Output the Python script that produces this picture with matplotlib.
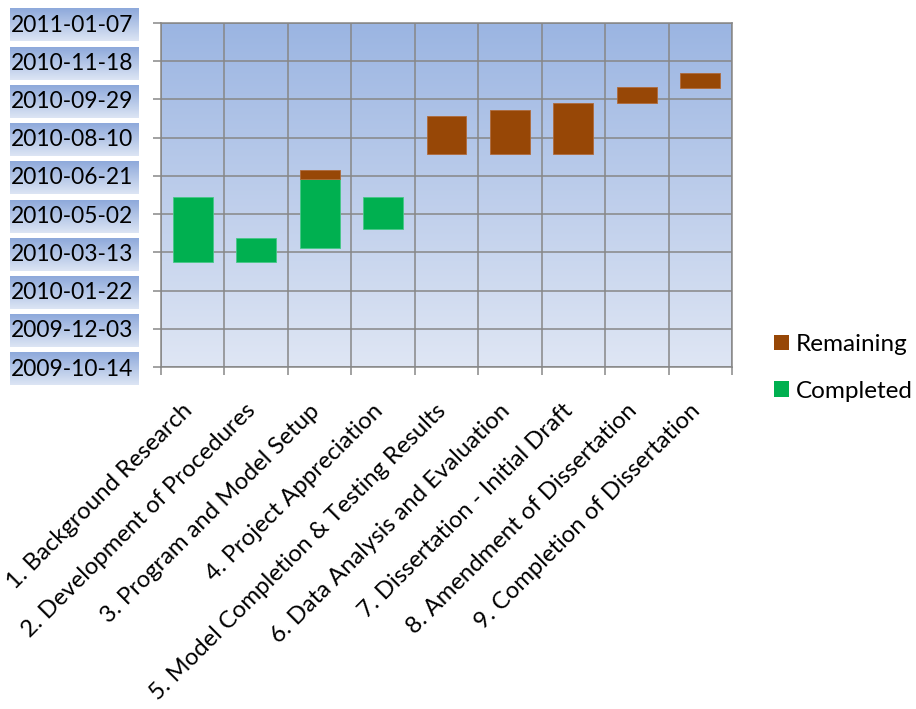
import numpy as np
import matplotlib
matplotlib.use("Agg")
import matplotlib.pyplot as plt
import matplotlib.dates as mdates
from matplotlib.patches import Patch
from matplotlib.colors import LinearSegmentedColormap
from matplotlib.transforms import ScaledTranslation

plt.rcParams['font.family'] = ['Lato', 'DejaVu Sans']

# Project schedule
tasks = [
    "1. Background Research",
    "2. Development of Procedures",
    "3. Program and Model Setup",
    "4. Project Appreciation",
    "5. Model Completion & Testing Results",
    "6. Data Analysis and Evaluation",
    "7. Dissertation - Initial Draft",
    "8. Amendment of Dissertation",
    "9. Completion of Dissertation",
]
start_dates = ["2010-03-01", "2010-03-01", "2010-03-19", "2010-04-12",
               "2010-07-19", "2010-07-19", "2010-07-19", "2010-09-25", "2010-10-14"]
completed_days = [84, 31, 90, 42, 0, 0, 0, 0, 0]
remaining_days = [0, 0, 12, 0, 50, 58, 67, 20, 20]

axis_start = "2009-10-14"
axis_end = "2011-01-07"
tick_step_days = 50

green = "#00B050"
brown = "#974706"
grid_col = "#878787"

fig = plt.figure(figsize=(9.16, 7.09), dpi=100)
ax = fig.add_axes([161 / 916, 1 - 367 / 709, (732 - 161) / 916, (367 - 23) / 709])

x = np.arange(len(tasks))
starts = mdates.datestr2num(start_dates)
comp = np.array(completed_days, dtype=float)
rem = np.array(remaining_days, dtype=float)

y0 = mdates.datestr2num(axis_start)
y1 = mdates.datestr2num(axis_end)

# Plot-area gradient
grad = LinearSegmentedColormap.from_list("pa", ["#DFE6F4", "#9BB5E2"])
ax.imshow(np.linspace(0, 1, 256).reshape(-1, 1), cmap=grad, origin="lower",
          extent=[-0.5, len(tasks) - 0.5, y0, y1], aspect="auto", zorder=0)

bw = 0.63
ax.bar(x, comp, bottom=starts, width=bw, color=green, edgecolor="#45C887",
       linewidth=np.where(comp > 0, 0.6, 0.0), zorder=3, label="Completed")
ax.bar(x, rem, bottom=starts + comp, width=bw, color=brown, edgecolor="#B06A3A",
       linewidth=np.where(rem > 0, 0.6, 0.0), zorder=3, label="Remaining")

ax.set_xlim(-0.5, len(tasks) - 0.5)
ax.set_ylim(y0, y1)

yt = np.arange(y0, y1 + 0.5, tick_step_days)
ax.set_yticks(yt)
ax.yaxis.set_major_formatter(mdates.DateFormatter("%Y-%m-%d"))
ax.tick_params(axis="y", length=6, width=1.1, color=grid_col, pad=14,
               labelsize=16.4)

# Category boundaries carry the tick marks; names are drawn at the centres
ax.set_xticks(np.arange(-0.5, len(tasks)))
ax.tick_params(axis="x", length=6, width=1.1, color=grid_col, labelbottom=False)
offset = ScaledTranslation(-11 / 100, -33 / 100, fig.dpi_scale_trans)
for xi, name in zip(x, tasks):
    ax.text(xi, 0, name, transform=ax.get_xaxis_transform() + offset,
            rotation=45, ha="right", va="top", rotation_mode="anchor",
            fontsize=17.2)

for yy in yt:
    ax.axhline(yy, color=grid_col, lw=1.1, zorder=1)
for xx in np.arange(-0.5, len(tasks)):
    ax.axvline(xx, color=grid_col, lw=1.1, zorder=1)
for s in ax.spines.values():
    s.set_color(grid_col)
    s.set_linewidth(1.1)

# Legend
handles = [Patch(facecolor=brown, label="Remaining"),
           Patch(facecolor=green, label="Completed")]
fig.legend(handles=handles, loc="center left", bbox_to_anchor=(774 / 916, 1 - 368 / 709),
           frameon=False, fontsize=17.5, handlelength=0.6, handleheight=0.6,
           handletextpad=0.3, labelspacing=1.05, borderaxespad=0, borderpad=0)

# Gradient boxes behind the y tick labels
fig.canvas.draw()
W, H = fig.canvas.get_width_height()
bg = fig.add_axes([0, 0, 1, 1], zorder=-1)
bg.axis("off")
box = LinearSegmentedColormap.from_list("bx", ["#DCE5F4", "#8EA9DB"])
r = fig.canvas.get_renderer()
for lab in ax.get_yticklabels():
    bb = lab.get_window_extent(r)
    cy = (bb.y0 + bb.y1) / 2
    bg.imshow(np.linspace(0, 1, 64).reshape(-1, 1), cmap=box, origin="lower",
              extent=[bb.x0 - 1, bb.x1 + 5, cy - 16.5, cy + 16.5], aspect="auto")
bg.set_xlim(0, W)
bg.set_ylim(0, H)

fig.savefig("out.png", dpi=100)
